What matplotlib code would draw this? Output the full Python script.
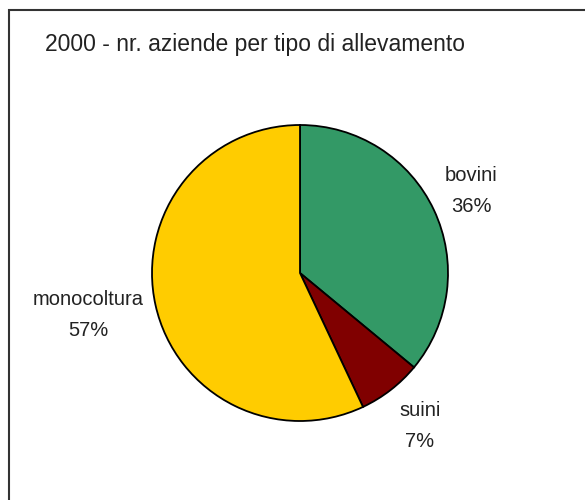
import matplotlib.pyplot as plt
from matplotlib.patches import Rectangle

plt.rcParams['font.family'] = ['Liberation Sans', 'DejaVu Sans']

# data
categories = ["bovini", "suini", "monocoltura"]
values = [36, 7, 57]
colors = ["#339966", "#800000", "#FFCC00"]
title = "2000 - nr. aziende per tipo di allevamento"

fig = plt.figure(figsize=(5.85, 5.0), dpi=100)
ax = fig.add_axes([0, 0, 1, 1])

# frame around the chart area
ax.add_patch(Rectangle((9, -20), 620, 510, fill=False, edgecolor="#333333", lw=1.5))

ax.pie(values, colors=colors, startangle=90, counterclock=False,
       center=(300, 227), radius=148, frame=True,
       wedgeprops=dict(edgecolor="black", linewidth=1.3))
ax.set_xlim(0, 585)
ax.set_ylim(0, 500)
ax.set_aspect("equal")
ax.axis("off")

# labels
label_pos = [(471, 309), (420, 74), (88, 185)]
for name, v, (x, y) in zip(categories, values, label_pos):
    ax.text(x, y, f"{name}\n{v}%", ha="center", va="center", fontsize=14.5,
            color="#222222", linespacing=1.75)

ax.text(45, 456, title, ha="left", va="center", fontsize=16.5, color="#222222")

fig.savefig("out.png", dpi=100)
